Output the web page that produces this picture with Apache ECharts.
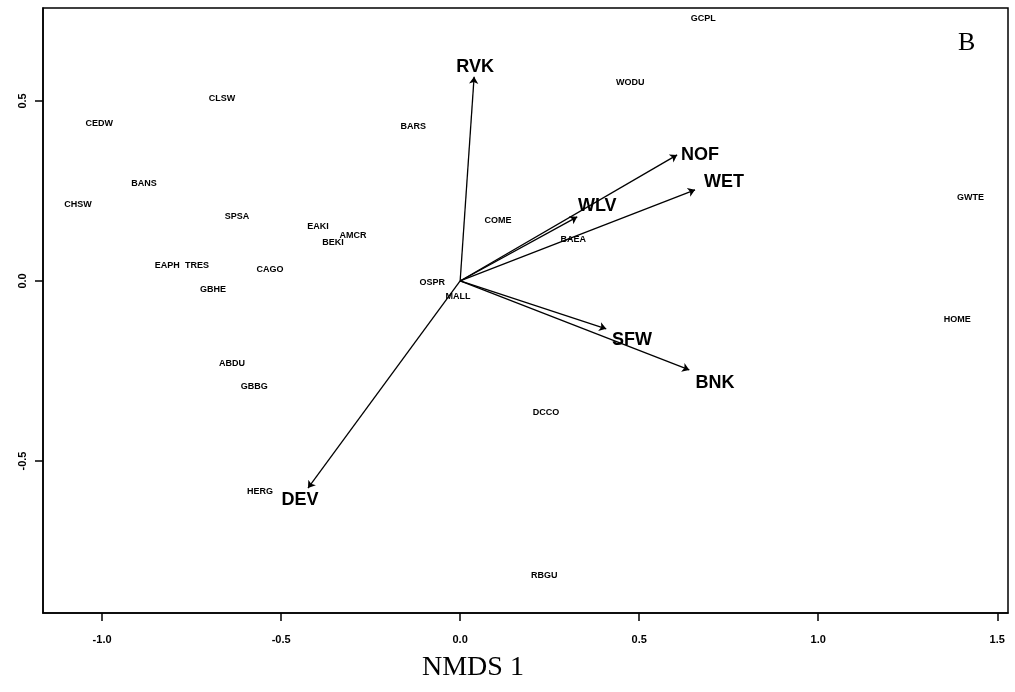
<!DOCTYPE html>
<html>
<head>
<meta charset="utf-8">
<script src="https://cdn.jsdelivr.net/npm/echarts@6/dist/echarts.min.js"></script>
<style>html,body{margin:0;padding:0;background:#fff;}#chart{width:1015px;height:692px;}</style>
</head>
<body>
<div id="chart"></div>
<script>
// Species scores (NMDS 1, NMDS 2)
const species = ['GCPL','CLSW','CEDW','BANS','CHSW','SPSA','EAKI','BEKI','AMCR','EAPH','TRES','CAGO','GBHE','BARS','WODU','COME','BAEA','OSPR','MALL','ABDU','GBBG','HERG','DCCO','RBGU','GWTE','HOME'];
const speciesX = [0.679,-0.665,-1.008,-0.883,-1.067,-0.623,-0.397,-0.355,-0.299,-0.818,-0.735,-0.531,-0.690,-0.131,0.475,0.106,0.316,-0.078,-0.006,-0.637,-0.575,-0.559,0.240,0.235,1.425,1.388];
const speciesY = [0.728,0.508,0.436,0.272,0.211,0.178,0.150,0.106,0.125,0.042,0.044,0.031,-0.025,0.428,0.550,0.169,0.114,-0.003,-0.044,-0.228,-0.292,-0.586,-0.364,-0.817,0.233,-0.106];

// Environmental vectors (arrow tips) and label positions
const vectors = ['RVK','NOF','WET','WLV','SFW','BNK','DEV'];
const vecX = [0.039,0.606,0.656,0.327,0.408,0.640,-0.425];
const vecY = [0.567,0.350,0.253,0.178,-0.133,-0.247,-0.575];
const vecLabelX = [0.042,0.670,0.737,0.383,0.480,0.712,-0.447];
const vecLabelY = [0.594,0.350,0.275,0.208,-0.164,-0.283,-0.608];

const xTicks = [-1.0,-0.5,0.0,0.5,1.0,1.5];
const yTicks = [-0.5,0.0,0.5];
const xTitle = 'NMDS 1';
const panelLetter = 'B';

const chart = echarts.init(document.getElementById('chart'));

function textSeries(names, xs, ys, font) {
  return {
    type: 'custom',
    coordinateSystem: 'cartesian2d',
    silent: true,
    data: names.map((n, i) => [xs[i], ys[i], n]),
    renderItem: function (params, api) {
      const p = api.coord([api.value(0), api.value(1)]);
      return {
        type: 'text',
        x: p[0], y: p[1],
        style: {
          text: names[params.dataIndex],
          font: font,
          fill: '#000',
          align: 'center',
          verticalAlign: 'middle'
        }
      };
    }
  };
}

const fmt = v => (Math.abs(v) < 1e-9 ? '0.0' : v.toFixed(1));

const option = {
  animation: false,
  backgroundColor: '#fff',
  grid: {
    left: 43, right: 7, top: 8, bottom: 79,
    show: true, borderColor: '#000', borderWidth: 1.5, backgroundColor: 'transparent'
  },
  xAxis: {
    type: 'value', min: -1.165, max: 1.53,
    axisLine: { show: true, onZero: false, lineStyle: { color: '#000', width: 1.5 } },
    splitLine: { show: false },
    axisTick: { show: true, inside: false, length: 8, lineStyle: { color: '#000', width: 1.5 }, customValues: xTicks },
    axisLabel: { customValues: xTicks, formatter: fmt, margin: 21, color: '#000', fontSize: 11, fontWeight: 'bold', fontFamily: 'Liberation Sans, Arial' }
  },
  yAxis: {
    type: 'value', min: -0.922, max: 0.758,
    axisLine: { show: true, onZero: false, lineStyle: { color: '#000', width: 1.5 } },
    splitLine: { show: false },
    axisTick: { show: true, inside: false, length: 8, lineStyle: { color: '#000', width: 1.5 }, customValues: yTicks },
    axisLabel: { customValues: yTicks, formatter: fmt, rotate: 90, margin: 15, color: '#000', fontSize: 11, fontWeight: 'bold', fontFamily: 'Liberation Sans, Arial' }
  },
  graphic: [
    { type: 'text', left: 422, top: 654, style: { text: xTitle, font: '28px "Liberation Serif", "Times New Roman", serif', fill: '#000' } },
    { type: 'text', left: 958, top: 30, style: { text: panelLetter, font: '26px "Liberation Serif", "Times New Roman", serif', fill: '#000' } }
  ],
  series: [
    {
      type: 'lines',
      coordinateSystem: 'cartesian2d',
      silent: true,
      symbol: ['none', 'arrow'],
      symbolSize: 7,
      lineStyle: { color: '#000', width: 1.3, opacity: 1 },
      data: vectors.map((n, i) => ({ name: n, coords: [[0, 0], [vecX[i], vecY[i]]] }))
    },
    textSeries(species, speciesX, speciesY, 'bold 9px "Liberation Sans", Arial, sans-serif'),
    textSeries(vectors, vecLabelX, vecLabelY, 'bold 18px "Liberation Sans", Arial, sans-serif')
  ]
};
chart.setOption(option);
</script>
</body>
</html>
